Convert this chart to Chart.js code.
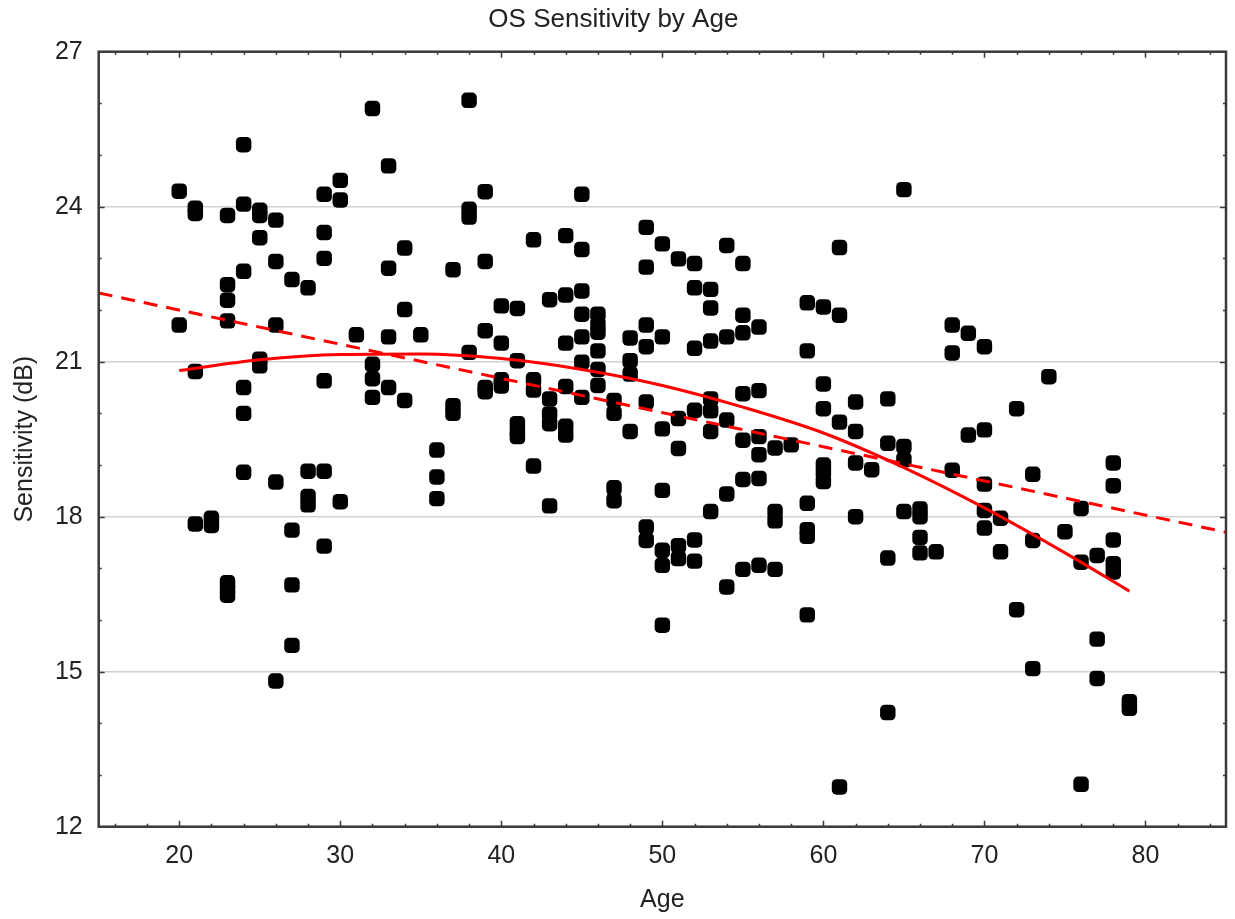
<!DOCTYPE html>
<html>
<head>
<meta charset="utf-8">
<title>OS Sensitivity by Age</title>
<script src="https://cdn.jsdelivr.net/npm/chart.js"></script>
<style>
    body { margin: 0; background: #fff; }
    #wrap { width: 1235px; height: 919px; }
</style>
</head>
<body>
<div id="wrap"><canvas id="sensChart"></canvas></div>
<script>
// patient ages (one entry per year) and the measured sensitivities for each
const ageValues = [20,21,22,23,24,25,26,27,28,29,30,31,32,33,34,35,36,37,38,39,
                   40,41,42,43,44,45,46,47,48,49,50,51,52,53,54,55,56,57,58,59,
                   60,61,62,63,64,65,66,67,68,69,70,71,72,73,74,75,76,77,78,79];

const sensitivityByAge = [
    [24.3, 21.71],                                   // 20
    [23.97, 23.87, 20.81, 17.86],                    // 21
    [17.97, 17.83],                                  // 22
    [23.83, 22.49, 22.19, 21.79, 16.72, 16.6, 16.48],// 23
    [25.2, 24.05, 22.75, 20.5, 20.0, 18.86],         // 24
    [23.93, 23.83, 23.4, 21.05, 20.92],              // 25
    [23.74, 22.94, 21.71, 18.67, 14.82],             // 26
    [22.59, 17.74, 16.68, 15.51],                    // 27
    [22.43, 18.88, 18.39, 18.23],                    // 28
    [24.24, 23.5, 23.0, 20.63, 18.88, 17.43],        // 29
    [24.51, 24.13, 18.29],                           // 30
    [21.52],                                         // 31
    [25.9, 20.95, 20.67, 20.31],                     // 32
    [24.79, 22.81, 21.48, 20.5],                     // 33
    [23.2, 22.01, 20.25],                            // 34
    [21.52],                                         // 35
    [19.29, 18.77, 18.35],                           // 36
    [22.78, 20.15, 20.0],                            // 37
    [26.06, 23.95, 23.8, 21.18],                     // 38
    [24.29, 22.94, 21.6, 20.5, 20.42],               // 39
    [22.08, 21.36, 20.65, 20.53],                    // 40
    [22.03, 21.02, 19.8, 19.65, 19.55],              // 41
    [23.36, 20.65, 20.45, 18.98],                    // 42
    [22.2, 20.28, 19.99, 19.8, 18.21],               // 43
    [23.44, 22.29, 21.36, 20.52, 19.75, 19.58],      // 44
    [24.24, 23.17, 22.37, 21.92, 21.48, 20.99, 20.31], // 45
    [21.92, 21.72, 21.57, 21.21, 20.85, 20.54],      // 46
    [20.25, 20.0, 18.56, 18.31],                     // 47
    [21.46, 21.02, 20.76, 19.65],                    // 48
    [23.6, 22.83, 21.71, 21.29, 20.22, 17.8, 17.54], // 49
    [23.28, 21.48, 19.7, 18.51, 17.35, 17.06, 15.9], // 50
    [22.99, 19.9, 19.32, 17.44, 17.19],              // 51
    [22.9, 22.43, 21.26, 20.06, 17.55, 17.14],       // 52
    [22.4, 22.04, 21.4, 20.28, 20.05, 19.65, 18.1],  // 53
    [23.25, 21.48, 19.87, 18.44, 16.64],             // 54
    [22.9, 21.9, 21.56, 20.38, 19.48, 18.72, 16.98], // 55
    [21.67, 20.44, 19.55, 19.2, 18.74, 17.06],       // 56
    [19.33, 18.1, 17.92, 16.98],                     // 57
    [19.39],                                         // 58
    [22.14, 21.21, 18.26, 17.75, 17.62, 16.1],       // 59
    [22.06, 20.57, 20.09, 19.0, 18.85, 18.68],       // 60
    [23.21, 21.9, 19.83, 12.77],                     // 61
    [20.22, 19.65, 19.04, 18.0],                     // 62
    [18.91],                                         // 63
    [20.28, 19.42, 17.2, 14.21],                     // 64
    [24.33, 19.36, 19.1, 18.1],                      // 65
    [18.15, 18.0, 17.6, 17.3],                       // 66
    [17.32],                                         // 67
    [21.71, 21.17, 18.9],                            // 68
    [21.55, 19.58],                                  // 69
    [21.29, 19.68, 18.63, 18.12, 17.78],             // 70
    [17.97, 17.32],                                  // 71
    [20.09, 16.2],                                   // 72
    [18.82, 17.54, 15.06],                           // 73
    [20.71],                                         // 74
    [17.71],                                         // 75
    [18.16, 17.12, 12.82],                           // 76
    [17.25, 15.63, 14.87],                           // 77
    [19.04, 18.6, 17.55, 17.09, 16.93],              // 78
    [14.42, 14.29]                                   // 79
];

// quadratic fit (solid) and linear fit (dashed)
const quadAges = [20, 25, 30, 35, 40, 45, 50, 55, 60, 65, 70, 75, 79];
const quadFit  = [20.83, 21.04, 21.14, 21.15, 21.06, 20.85, 20.54, 20.12, 19.62, 18.95, 18.17, 17.3, 16.56];
const linAges  = [15, 85];
const linFit   = [22.33, 17.70];

const xTicks = [20, 30, 40, 50, 60, 70, 80];
const yTicks = [12, 15, 18, 21, 24, 27];

const FONT = "'Liberation Sans', Arial, sans-serif";
const TEXT = '#222';

let points = [];
ageValues.forEach((age, i) => {
    sensitivityByAge[i].forEach(v => points.push({x: age, y: v}));
});
const quadPts = quadAges.map((a, i) => ({x: a, y: quadFit[i]}));
const linPts = linAges.map((a, i) => ({x: a, y: linFit[i]}));

// box around the plot with inward tick marks on all four sides
const framePlugin = {
    id: 'frame',
    afterDraw(chart) {
        const {ctx, chartArea: a, scales} = chart;
        ctx.save();
        ctx.strokeStyle = '#3a3a3a';
        ctx.lineWidth = 1.5;
        for (let v = 16; v <= 84; v += 2) {
            const px = Math.round(scales.x.getPixelForValue(v)) + 0.5;
            const len = v % 10 === 0 ? 6 : 3;
            ctx.beginPath();
            ctx.moveTo(px, a.bottom); ctx.lineTo(px, a.bottom - len);
            ctx.moveTo(px, a.top); ctx.lineTo(px, a.top + len);
            ctx.stroke();
        }
        for (let v = 13; v <= 26; v++) {
            const py = Math.round(scales.y.getPixelForValue(v)) + 0.5;
            const len = v % 3 === 0 ? 6 : 3;
            ctx.beginPath();
            ctx.moveTo(a.left, py); ctx.lineTo(a.left + len, py);
            ctx.moveTo(a.right, py); ctx.lineTo(a.right - len, py);
            ctx.stroke();
        }
        ctx.lineWidth = 2.5;
        ctx.strokeRect(a.left, a.top, a.right - a.left, a.bottom - a.top);
        ctx.restore();
    }
};

const ctx = document.getElementById('sensChart').getContext('2d');
new Chart(ctx, {
    type: 'scatter',
    data: {
        datasets: [
            {
                label: 'Quadratic fit',
                data: quadPts,
                showLine: true,
                borderColor: '#ff0000',
                borderWidth: 3,
                pointRadius: 0,
                cubicInterpolationMode: 'monotone',
                order: 1
            },
            {
                label: 'Linear fit',
                data: linPts,
                showLine: true,
                borderColor: '#ff0000',
                borderWidth: 3,
                borderDash: [14, 9],
                pointRadius: 0,
                order: 2
            },
            {
                label: 'Sensitivity',
                data: points,
                pointStyle: 'rectRounded',
                pointRadius: 9,
                pointBorderWidth: 0,
                backgroundColor: '#000',
                borderColor: '#000',
                order: 3
            }
        ]
    },
    options: {
        responsive: true,
        maintainAspectRatio: false,
        animation: false,
        layout: { padding: { top: 0, left: 0, right: 8.3, bottom: 0 } },
        plugins: {
            legend: { display: false },
            tooltip: { enabled: false },
            title: {
                display: true,
                text: 'OS Sensitivity by Age',
                color: TEXT,
                font: { family: FONT, size: 26, weight: 'normal' },
                padding: { top: 4, bottom: 16.5 }
            }
        },
        scales: {
            x: {
                type: 'linear',
                min: 15,
                max: 85,
                grid: { display: false, drawTicks: false },
                border: { display: false },
                afterBuildTicks(scale) { scale.ticks = xTicks.map(v => ({value: v})); },
                ticks: {
                    padding: 14,
                    color: TEXT,
                    font: { family: FONT, size: 25 }
                },
                title: {
                    display: true,
                    text: 'Age',
                    color: TEXT,
                    font: { family: FONT, size: 25 },
                    padding: { top: 4, bottom: 4 }
                },
                afterFit(scale) { scale.height = 92.3; }
            },
            y: {
                min: 12,
                max: 27,
                grid: { color: '#d2d2d2', lineWidth: 1.5, drawTicks: false },
                border: { display: false },
                afterBuildTicks(scale) { scale.ticks = yTicks.map(v => ({value: v})); },
                ticks: {
                    padding: 16,
                    color: TEXT,
                    font: { family: FONT, size: 25 }
                },
                title: {
                    display: true,
                    text: 'Sensitivity (dB)',
                    color: TEXT,
                    font: { family: FONT, size: 25 },
                    padding: { top: 10, bottom: 0 }
                },
                afterFit(scale) { scale.width = 98.7; }
            }
        }
    },
    plugins: [framePlugin]
});
</script>
</body>
</html>
